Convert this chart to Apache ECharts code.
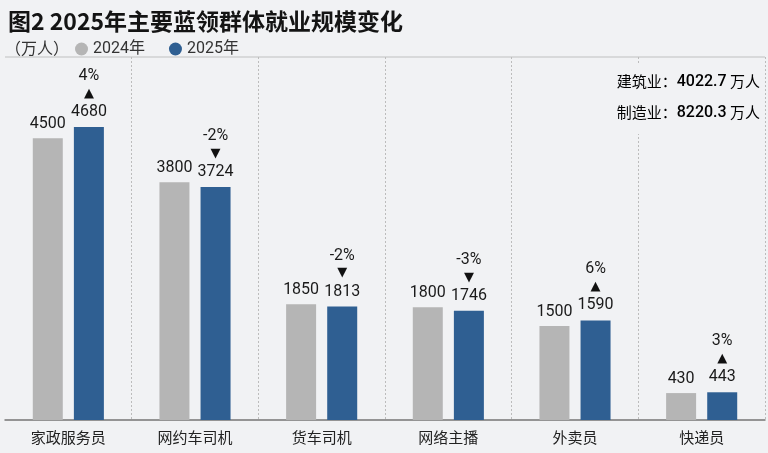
<!DOCTYPE html>
<html>
<head>
<meta charset="utf-8">
<script src="https://cdn.jsdelivr.net/npm/echarts@6/dist/echarts.min.js"></script>
<style>
html,body{margin:0;padding:0;background:#f1f2f4;}
#chart{width:768px;height:453px;}
</style>
</head>
<body>
<div id="chart"></div>
<script>
const categories = ['家政服务员', '网约车司机', '货车司机', '网络主播', '外卖员', '快递员'];
const values2024 = [4500, 3800, 1850, 1800, 1500, 430];
const values2025 = [4680, 3724, 1813, 1746, 1590, 443];
const growthPct = [4, -2, -2, -3, 6, 3];
const notes = [['建筑业', '4022.7'], ['制造业', '8220.3']];
const titleText = '图2 2025年主要蓝领群体就业规模变化';
const unitText = '（万人）';

const cjk = '"Noto Sans CJK SC", "Noto Sans", sans-serif';
const num = 'Roboto, "Noto Sans CJK SC", sans-serif';

const chart = echarts.init(document.getElementById('chart'));
chart.setOption({
  backgroundColor: '#f1f2f4',
  animation: false,
  title: [
    {text: titleText, left: 3, top: 5,
     textStyle: {fontFamily: cjk, fontSize: 23, fontWeight: 'bold', color: '#141414'}},
    {text: unitText, left: 0, top: 35,
     textStyle: {fontFamily: cjk, fontSize: 16, fontWeight: 'normal', color: '#333'}}
  ],
  legend: {
    left: 70, top: 36, itemGap: 24, icon: 'circle', itemWidth: 13, itemHeight: 13,
    textStyle: {fontFamily: num, fontSize: 16, color: '#333'},
    data: ['2024年', '2025年']
  },
  grid: {left: 5, right: 3, top: 57, bottom: 33, containLabel: false},
  xAxis: {
    type: 'category', data: categories,
    axisLine: {lineStyle: {color: '#7e7e7e', width: 1.5}},
    axisTick: {show: false},
    axisLabel: {fontFamily: cjk, fontSize: 15, color: '#222', margin: 10},
    splitLine: {show: true, interval: function (i) { return i > 0 && i < categories.length; },
      lineStyle: {color: '#bcbcbc', type: [2, 2], width: 1}}
  },
  yAxis: {
    type: 'value', min: 0, max: 5800, interval: 5800,
    axisLabel: {show: false}, axisLine: {show: false}, axisTick: {show: false},
    splitLine: {show: true, lineStyle: {color: '#cfd0d2', width: 1.5}}
  },
  series: [
    {
      name: '2024年', type: 'bar', data: values2024, barWidth: 30, barGap: '37%',
      itemStyle: {color: '#b5b5b5'},
      label: {show: true, position: 'top', distance: 6, fontFamily: num, fontSize: 16, color: '#1a1a1a'}
    },
    {
      name: '2025年', type: 'bar', data: values2025, barWidth: 30,
      itemStyle: {color: '#2f5f92'},
      label: {
        show: true, position: 'top', distance: 5,
        formatter: function (p) {
          const g = growthPct[p.dataIndex];
          const tri = g >= 0 ? '▲' : '▼';
          return '{p|' + g + '%}\n{t|' + tri + '}\n{v|' + p.value + '}';
        },
        rich: {
          p: {fontFamily: num, fontSize: 16, color: '#1a1a1a', lineHeight: 18},
          t: {fontFamily: '"DejaVu Sans", sans-serif', fontSize: 13, color: '#111', lineHeight: 17},
          v: {fontFamily: num, fontSize: 16, color: '#1a1a1a', lineHeight: 20}
        }
      }
    }
  ],
  graphic: [
    {
      type: 'text', right: 6, top: 64, z: 100,
      style: {
        text: notes.map(n => '{l|' + n[0] + '：}{b|' + n[1] + '}{u| 万人}').join('\n'),
        rich: {
          l: {fontFamily: cjk, fontSize: 15, color: '#222', lineHeight: 31},
          b: {fontFamily: num, fontSize: 16, fontWeight: 500, color: '#222', lineHeight: 31},
          u: {fontFamily: cjk, fontSize: 15, color: '#222', lineHeight: 31}
        },
        backgroundColor: '#f1f2f4', padding: [2, 2, 6, 6]
      }
    }
  ]
});
</script>
</body>
</html>
